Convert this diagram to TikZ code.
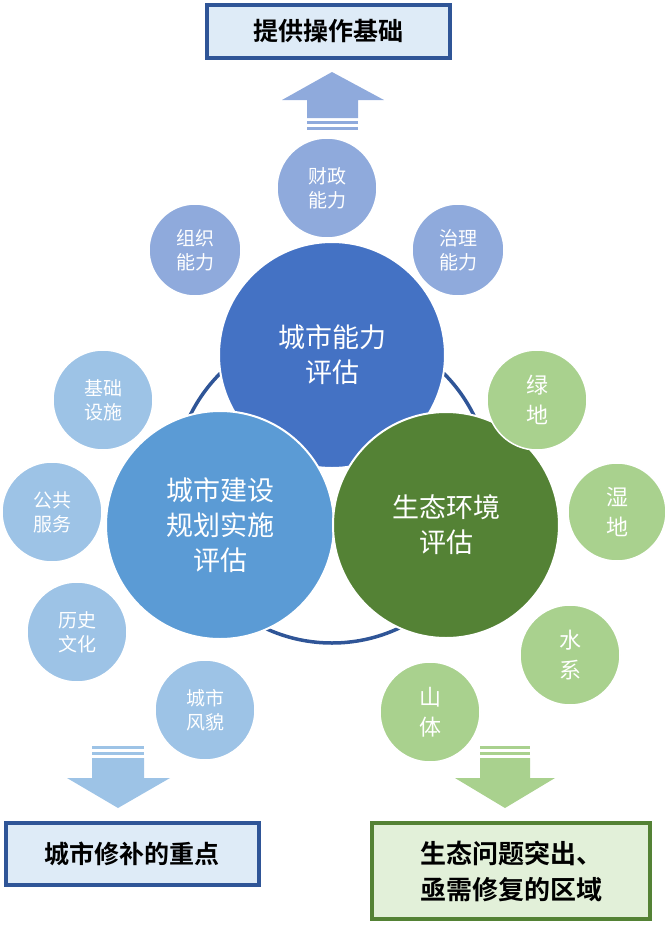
\documentclass[tikz,border=0pt]{standalone}
\usepackage{fontspec}
\setmainfont{Noto Sans CJK SC}[BoldFont={Noto Sans CJK SC Bold}]
\begin{document}
\begin{tikzpicture}[x=1pt,y=-1pt,
  box/.style={draw=boxb,line width=3.5pt,fill=boxf,font=\bfseries\fontsize{25}{32}\selectfont,inner sep=0pt,align=left},
  big/.style={circle,draw=white,line width=2pt,text=white,font=\fontsize{27}{35}\selectfont,align=center,inner sep=0pt},
  small/.style={circle,draw=white,line width=1.5pt,text=white,font=\fontsize{19}{24}\selectfont,align=center,inner sep=0pt}]
\definecolor{boxb}{HTML}{2F5597}\definecolor{boxf}{HTML}{DEEBF7}
\definecolor{gboxb}{HTML}{548235}\definecolor{gboxf}{HTML}{E2F0D9}
\definecolor{c1}{HTML}{4472C4}\definecolor{c2}{HTML}{5B9BD5}\definecolor{c3}{HTML}{548235}
\definecolor{s1}{HTML}{8FAADC}\definecolor{s2}{HTML}{9DC3E6}\definecolor{s3}{HTML}{A9D18E}
\useasboundingbox (0,0) rectangle (670,927);
% top
\node[box,minimum width=243pt,minimum height=53pt,align=center] (top) at (328.5,31.5) {提供操作基础};
\fill[s1] (282,100) -- (332,72) -- (384,100) -- (358,100) -- (358,118) -- (307,118) -- (307,100) -- cycle;
\fill[s1] (307,121) rectangle (358,124); \fill[s1] (307,127) rectangle (358,130);
% ring
\node[circle,draw=boxb,line width=3.5pt,minimum size=316pt] (ring) at (332,485) {};
% small top circles
\node[small,fill=s1,minimum size=100pt] (cz) at (327,188) {财政\\能力};
\node[small,fill=s1,minimum size=92pt] (zz) at (195,250) {组织\\能力};
\node[small,fill=s1,minimum size=92pt] (zl) at (458,250) {治理\\能力};
% big
\node[big,fill=c1,minimum size=226pt] (cs) at (332,355) {城市能力\\评估};
\node[big,fill=c2,minimum size=228pt] (gh) at (220,525) {城市建设\\规划实施\\评估};
\node[big,fill=c3,minimum size=226pt] (st) at (446,525) {生态环境\\评估};
% left
\node[small,fill=s2,minimum size=100pt] (jc) at (103,400) {基础\\设施};
\node[small,fill=s2,minimum size=100pt] (gg) at (52,512) {公共\\服务};
\node[small,fill=s2,minimum size=100pt] (ls) at (77,632) {历史\\文化};
\node[small,fill=s2,minimum size=100pt] (fm) at (205,710) {城市\\风貌};
% right
\node[small,fill=s3,minimum size=100pt,font=\fontsize{22}{30}\selectfont] (ld) at (537,400) {绿\\地};
\node[small,fill=s3,minimum size=98pt,font=\fontsize{22}{30}\selectfont] (sd) at (617,512) {湿\\地};
\node[small,fill=s3,minimum size=100pt,font=\fontsize{22}{30}\selectfont] (sx) at (570,655) {水\\系};
\node[small,fill=s3,minimum size=100pt,font=\fontsize{22}{30}\selectfont] (sti) at (430,712) {山\\体};
% bottom-left arrow
\fill[s2] (92,746) rectangle (144,749); \fill[s2] (92,752) rectangle (144,755);
\fill[s2] (92,758) -- (144,758) -- (144,778) -- (170,778) -- (118,808) -- (67,778) -- (92,778) -- cycle;
\node[box,minimum width=253pt,minimum height=62pt,align=center] (bl) at (132.5,854) {城市修补的重点};
% bottom-right arrow
\fill[s3] (480,746) rectangle (530,749); \fill[s3] (480,752) rectangle (530,755);
\fill[s3] (480,758) -- (530,758) -- (530,778) -- (555,778) -- (505,808) -- (455,778) -- (480,778) -- cycle;
\node[box,draw=gboxb,fill=gboxf,minimum width=278pt,minimum height=96pt,align=left,font=\bfseries\fontsize{26}{36}\selectfont] (br) at (511,871) {生态问题突出、\\亟需修复的区域};
\end{tikzpicture}
\end{document}
